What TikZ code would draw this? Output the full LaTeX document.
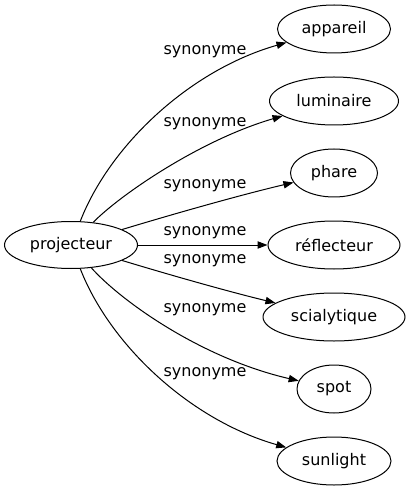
\documentclass[tikz,border=0pt]{standalone}
\usepackage{fontspec}
\setmainfont{DejaVu Sans}
\usetikzlibrary{shapes.geometric,arrows.meta}
\begin{document}
\begin{tikzpicture}[x=0.75pt,y=-0.75pt,
  every node/.style={font=\fontsize{12pt}{14pt}\selectfont},
  word/.style={ellipse,draw,line width=0.75pt,minimum height=36pt,inner sep=0pt},
  lbl/.style={inner sep=0pt},
  syn/.style={line width=0.75pt,-{Triangle[length=7.5pt,width=5.5pt]}}]
\useasboundingbox (0,0) rectangle (410,491);
\node[word,minimum width=99.75pt,minimum height=35.25pt] (p) at (71,245) {projecteur};
\node[word,minimum width=84.75pt] (a) at (334,29) {appareil};
\node[word,minimum width=96.75pt] (b) at (334,101) {luminaire};
\node[word,minimum width=65.25pt] (c) at (334,173) {phare};
\node[word,minimum width=99pt] (d) at (334,245) {réflecteur};
\node[word,minimum width=106.5pt] (e) at (334,317) {scialytique};
\node[word,minimum width=55.5pt] (f) at (334,389) {spot};
\node[word,minimum width=85.5pt] (g) at (334,461) {sunlight};
\node[lbl] (la) at (205,52) {synonyme};
\node[lbl] (lb) at (205,124) {synonyme};
\node[lbl] (lc) at (205,186) {synonyme};
\node[lbl] (ld) at (205,233) {synonyme};
\node[lbl] (le) at (205,261) {synonyme};
\node[lbl] (lf) at (205,310) {synonyme};
\node[lbl] (lg) at (205,374) {synonyme};
\draw[syn] (p) .. controls (110,145) and (190,70) .. (a);
\draw[syn] (p) .. controls (120,195) and (200,140) .. (b);
\draw[syn] (p) .. controls (170,215) and (240,195) .. (c);
\draw[syn] (p) -- (d);
\draw[syn] (p) .. controls (170,275) and (230,292) .. (e);
\draw[syn] (p) .. controls (120,300) and (200,358) .. (f);
\draw[syn] (p) .. controls (110,345) and (190,420) .. (g);
\end{tikzpicture}
\end{document}
